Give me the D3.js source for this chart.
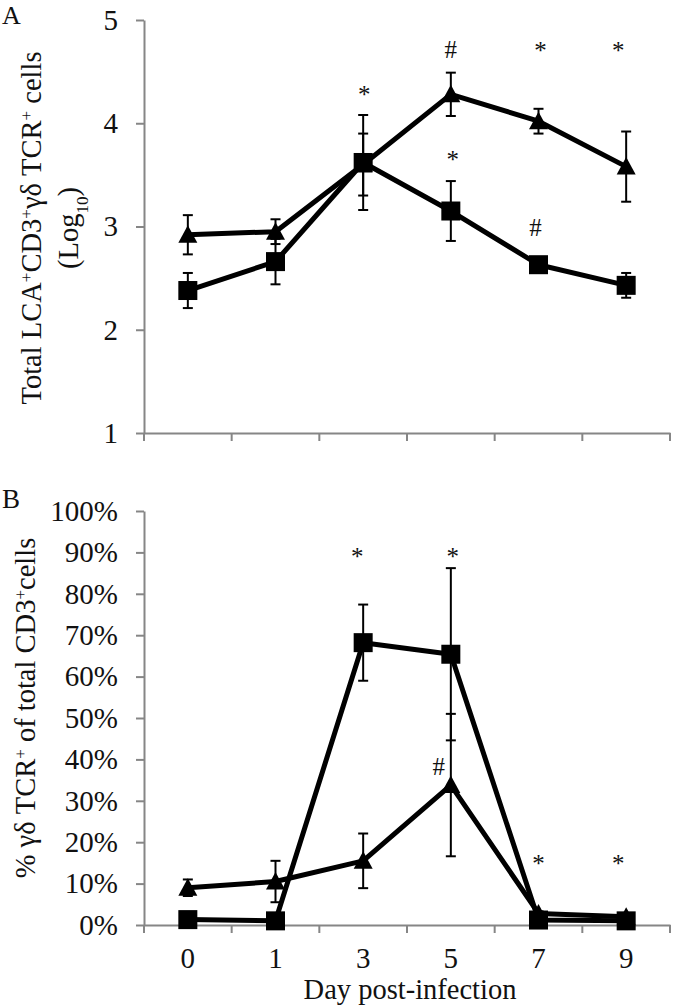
<!DOCTYPE html>
<html><head><meta charset="utf-8">
<script src="https://cdn.jsdelivr.net/npm/d3@7"></script>
<style>body{margin:0;background:#fff}</style>
</head><body><svg id="c" width="700" height="1007"></svg>
<script>
// ---------- data ----------
const days = ["0","1","3","5","7","9"];

const aTriangle    = [2.92, 2.95, 3.60, 4.28, 4.02, 3.58];
const aTriangleErr = [0.19, 0.12, 0.30, 0.21, 0.12, 0.34];
const aSquare      = [2.38, 2.66, 3.62, 3.15, 2.63, 2.43];
const aSquareErr   = [0.17, 0.22, 0.46, 0.29, 0.05, 0.12];
const aTicks = [1, 2, 3, 4, 5];

const bTriangle    = [0.090, 0.105, 0.155, 0.338, 0.028, 0.020];
const bTriangleErr = [0.020, 0.050, 0.066, 0.172, 0.005, 0.005];
const bSquare      = [0.013, 0.010, 0.682, 0.654, 0.012, 0.010];
const bSquareErr   = [0.003, 0.003, 0.092, 0.208, 0.003, 0.003];
const bTicks = [0, 0.1, 0.2, 0.3, 0.4, 0.5, 0.6, 0.7, 0.8, 0.9, 1.0];

const aNoteDays    = ["3", "5", "5", "7", "7", "9"];
const aNoteValues  = [4.31, 4.71, 3.68, 4.74, 2.99, 4.74];
const aNoteSymbols = ["*", "#", "*", "*", "#", "*"];

const bNoteDays    = ["3", "5", "5", "7", "9"];
const bNoteValues  = [0.898, 0.898, 0.382, 0.157, 0.157];
const bNoteSymbols = ["*", "*", "#", "*", "*"];

// ---------- layout ----------
const svg = d3.select("#c");
svg.append("rect").attr("width",700).attr("height",1007).attr("fill","#fff");
const FONT = "'Liberation Serif','Times New Roman',serif";
const AXC = "#868686";
const TXT = "#111";

const x = d3.scaleBand().domain(days).range([144, 670]).padding(0);
const cx = d => x(d) + x.bandwidth()/2;

function panel(y, ticks, fmt, showX, tri, triErr, sq, sqErr, nDays, nVals, nSyms, nDx) {
  const g = svg.append("g");
  const ya = g.append("g").attr("transform","translate(144,0)")
    .call(d3.axisLeft(y).tickValues(ticks).tickFormat(fmt).tickSize(8).tickSizeOuter(0).tickPadding(18));
  const y0 = y.range()[0];
  const xa = g.append("g").attr("transform",`translate(0,${y0})`)
    .call(d3.axisBottom(x).tickSize(0).tickSizeOuter(0).tickPadding(22).tickFormat(showX ? (d=>d) : (()=>"")));
  [ya, xa].forEach(a => {
    a.selectAll(".domain").attr("stroke", AXC).attr("stroke-width", 2);
    a.selectAll(".tick line").attr("stroke", AXC).attr("stroke-width", 2);
    a.selectAll("text").attr("font-family", FONT).attr("font-size", 29).attr("fill", TXT);
  });
  const bounds = days.map(d => x(d)).concat([x.range()[1]]);
  g.append("g").selectAll("line").data(bounds).join("line")
    .attr("x1", d=>d).attr("x2", d=>d).attr("y1", y0).attr("y2", y0+8)
    .attr("stroke", AXC).attr("stroke-width", 2);

  const line = d3.line().x((v,i)=>cx(days[i])).y(v=>y(v));
  [tri, sq].forEach(s => {
    g.append("path").attr("d", line(s)).attr("fill","none")
      .attr("stroke","#000").attr("stroke-width",5).attr("stroke-linejoin","round");
  });
  [[tri,triErr],[sq,sqErr]].forEach(([s,e]) => {
    const eg = g.append("g").attr("stroke","#000").attr("stroke-width",2);
    s.forEach((v,i) => {
      const X = cx(days[i]), t = y(v+e[i]), b = y(v-e[i]);
      eg.append("line").attr("x1",X).attr("x2",X).attr("y1",t).attr("y2",b);
      eg.append("line").attr("x1",X-5).attr("x2",X+5).attr("y1",t).attr("y2",t);
      eg.append("line").attr("x1",X-5).attr("x2",X+5).attr("y1",b).attr("y2",b);
    });
  });
  g.append("g").selectAll("path").data(tri).join("path")
    .attr("d","M0,-9.5L9.5,8L-9.5,8Z")
    .attr("transform",(v,i)=>`translate(${cx(days[i])},${y(v)})`).attr("fill","#000");
  g.append("g").selectAll("rect").data(sq).join("rect")
    .attr("x",(v,i)=>cx(days[i])-9.5).attr("y",v=>y(v)-9.5).attr("width",19).attr("height",19).attr("fill","#000");
  nDays.forEach((d,i) => {
    const off = nSyms[i] === "*" ? 12 : 8.5;
    g.append("text").attr("x", cx(d) + nDx[i]).attr("y", y(nVals[i]) + off)
      .attr("text-anchor","middle").attr("font-family",FONT).attr("font-size",25).attr("fill",TXT)
      .text(nSyms[i]);
  });
  return g;
}

const yA = d3.scaleLinear().domain([1,5]).range([433, 20]);
const yB = d3.scaleLinear().domain([0,1]).range([925, 511]);

panel(yA, aTicks, d3.format("d"), false, aTriangle, aTriangleErr, aSquare, aSquareErr,
      aNoteDays, aNoteValues, aNoteSymbols, [1, 0, 2, 2, -3, -8]);
panel(yB, bTicks, d3.format(".0%"), true, bTriangle, bTriangleErr, bSquare, bSquareErr,
      bNoteDays, bNoteValues, bNoteSymbols, [-6, 2, -12, 0, -8]);

svg.append("text").attr("x",2).attr("y",23.5).attr("font-family",FONT).attr("font-size",26).attr("fill",TXT).text("A");
svg.append("text").attr("x",2).attr("y",508).attr("font-family",FONT).attr("font-size",27).attr("fill",TXT).text("B");

function rich(t, parts) {
  parts.forEach(p => {
    const ts = t.append("tspan").text(p[0]);
    if (p[1] === "sup") ts.attr("baseline-shift","super").attr("font-size","0.6em");
    if (p[1] === "sub") ts.attr("baseline-shift","sub").attr("font-size","0.6em");
  });
}
const tA1 = svg.append("text").attr("transform","translate(41,228) rotate(-90)")
  .attr("text-anchor","middle").attr("font-family",FONT).attr("font-size",28.5).attr("fill",TXT);
rich(tA1, [["Total LCA"],["+","sup"],["CD3"],["+","sup"],["γδ TCR"],["+","sup"],[" cells"]]);
const tA2 = svg.append("text").attr("transform","translate(78,228) rotate(-90)")
  .attr("text-anchor","middle").attr("font-family",FONT).attr("font-size",28.5).attr("fill",TXT);
rich(tA2, [["(Log"],["10","sub"],[")"]]);

const tB = svg.append("text").attr("transform","translate(35,708) rotate(-90)")
  .attr("text-anchor","middle").attr("font-family",FONT).attr("font-size",28.5).attr("fill",TXT);
rich(tB, [["% γδ TCR"],["+","sup"],[" of total CD3"],["+","sup"],["cells"]]);

svg.append("text").attr("x",410).attr("y",999).attr("text-anchor","middle")
  .attr("font-family",FONT).attr("font-size",28.5).attr("fill",TXT).text("Day post-infection");
</script></body></html>
